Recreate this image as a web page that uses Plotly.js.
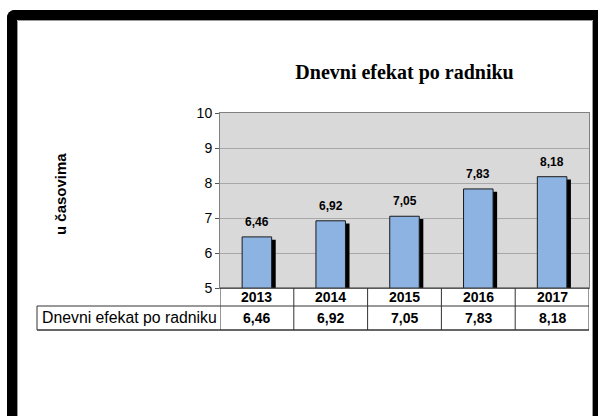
<!DOCTYPE html>
<html>
<head>
<meta charset="utf-8">
<script src="https://cdn.plot.ly/plotly-3.0.1.min.js"></script>
<style>
  html, body { margin: 0; padding: 0; background: #ffffff; overflow: hidden; }
  #wrap { position: relative; width: 598px; height: 416px; overflow: hidden; background: #fff; }
  #frame {
    position: absolute; left: 7px; top: 10px; width: 576px; height: 600px;
    border-left: 10px solid #000; border-top: 10px solid #000; border-right: 10px solid #000;
    border-top-left-radius: 8px;
  }
  #inner { position: absolute; left: 0; top: 0; right: 0; bottom: 0; border: 1px solid #9a9a9a; border-top-left-radius: 1px; }
  #chart { position: absolute; left: 0; top: 0; width: 598px; height: 416px; }
</style>
</head>
<body>
<div id="wrap">
  <div id="frame"><div id="inner"></div></div>
  <div id="chart"></div>
</div>
<script>
// ---- data ----
var years = ['2013', '2014', '2015', '2016', '2017'];
var values = [6.46, 6.92, 7.05, 7.83, 8.18];
var chartTitle = 'Dnevni efekat po radniku';
var yTitle = 'u časovima';
var rowLabel = 'Dnevni efekat po radniku';
var yTicks = [5, 6, 7, 8, 9, 10];

function fmt(v) { return v.toFixed(2).replace('.', ','); }

var shadow = {
  type: 'bar', x: years, y: values.map(function (v) { return v - 0.08; }),
  width: 0.4, offset: -0.145,
  marker: { color: '#000000', line: { width: 0 } },
  hoverinfo: 'skip', showlegend: false
};
var bars = {
  type: 'bar', x: years, y: values,
  width: 0.4, offset: -0.2,
  marker: { color: '#8DB3E2', line: { color: '#1a1a1a', width: 1 } },
  showlegend: false
};

var annotations = [];
years.forEach(function (yr, i) {
  annotations.push({ x: i, y: values[i], xref: 'x', yref: 'y', text: '<b>' + fmt(values[i]) + '</b>',
    showarrow: false, yanchor: 'bottom', yshift: 6, font: { family: 'Arial, Liberation Sans', size: 12, color: '#000' } });
  annotations.push({ x: i, y: -0.0514, xref: 'x', yref: 'paper', text: '<b>' + yr + '</b>',
    showarrow: false, yanchor: 'middle', font: { family: 'Arial, Liberation Sans', size: 14, color: '#000' } });
  annotations.push({ x: i, y: -0.1714, xref: 'x', yref: 'paper', text: '<b>' + fmt(values[i]) + '</b>',
    showarrow: false, yanchor: 'middle', font: { family: 'Arial, Liberation Sans', size: 14, color: '#000' } });
});
annotations.push({ x: -0.4878, y: -0.1714, xref: 'paper', yref: 'paper', text: rowLabel,
  showarrow: false, xanchor: 'left', yanchor: 'middle', font: { family: 'Arial, Liberation Sans', size: 15.8, color: '#000' } });
annotations.push({ x: -0.4336, y: 0.537, xref: 'paper', yref: 'paper', text: '<b>' + yTitle + '</b>',
  showarrow: false, textangle: -90, xanchor: 'center', yanchor: 'middle', font: { family: 'Arial, Liberation Sans', size: 15, color: '#000' } });

var lc = '#333333';
var shapes = [];
shapes.push({ type: 'line', xref: 'paper', yref: 'paper', x0: -0.4959, x1: 1, y0: -0.1029, y1: -0.1029, line: { color: lc, width: 1 } });
shapes.push({ type: 'line', xref: 'paper', yref: 'paper', x0: -0.4959, x1: 1, y0: -0.24, y1: -0.24, line: { color: lc, width: 1.5 } });
shapes.push({ type: 'line', xref: 'paper', yref: 'paper', x0: 0, x1: 1, y0: 0, y1: 0, line: { color: lc, width: 1 } });
shapes.push({ type: 'line', xref: 'paper', yref: 'paper', x0: -0.4959, x1: -0.4959, y0: -0.1029, y1: -0.24, line: { color: lc, width: 1 } });
for (var k = 0; k <= years.length; k++) {
  shapes.push({ type: 'line', xref: 'x', yref: 'paper', x0: k - 0.5, x1: k - 0.5, y0: 0, y1: -0.24, line: { color: lc, width: 1 } });
}

var layout = {
  width: 598, height: 416,
  margin: { l: 220, r: 9, t: 113, b: 128, pad: 0 },
  paper_bgcolor: 'rgba(0,0,0,0)',
  plot_bgcolor: '#D9D9D9',
  separators: ', ',
  barmode: 'overlay',
  title: { text: '<b>' + chartTitle + '</b>', x: 0.5, xref: 'paper', xanchor: 'center', y: 0.827, yref: 'container', yanchor: 'middle',
    font: { family: 'Times New Roman, Liberation Serif', size: 20, color: '#000' } },
  xaxis: { type: 'category', range: [-0.5, 4.5], showticklabels: false, ticks: '', showgrid: false, zeroline: false,
    showline: true, linecolor: '#808080', linewidth: 1, mirror: true, fixedrange: true },
  yaxis: { range: [5, 10], tickvals: yTicks, ticks: 'outside', ticklen: 4, tickcolor: '#555', tickwidth: 1,
    showgrid: true, gridcolor: '#A8A8A8', gridwidth: 1, zeroline: false,
    showline: true, linecolor: '#808080', linewidth: 1, mirror: true,
    tickfont: { family: 'Arial, Liberation Sans', size: 14, color: '#000' }, fixedrange: true },
  annotations: annotations,
  shapes: shapes,
  showlegend: false
};

Plotly.newPlot('chart', [shadow, bars], layout, { displayModeBar: false, staticPlot: true });
</script>
</body>
</html>
